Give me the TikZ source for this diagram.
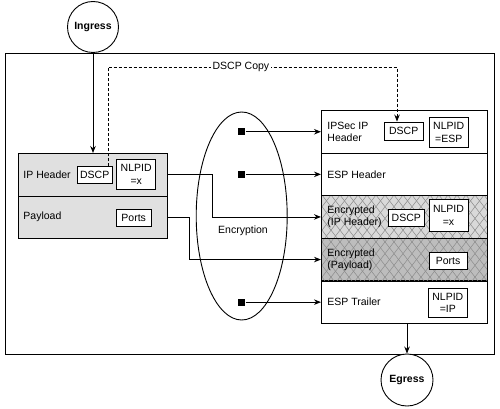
\documentclass[tikz,border=0pt]{standalone}
\usepackage{fontspec}
\setmainfont{Liberation Sans}
\usepackage{xcolor}
\usetikzlibrary{arrows.meta,positioning,shapes.geometric}

\definecolor{lgray}{gray}{0.88}
\definecolor{hgray}{gray}{0.85}
\definecolor{dgray}{gray}{0.74}
\definecolor{hatchc}{gray}{0.55}

\begin{document}
\begin{tikzpicture}[x=1pt,y=-1pt,line width=0.9pt,
    every node/.style={font=\fontsize{10.5}{12}\selectfont},
    endpt/.style={draw, fill=white, circle, minimum size=51pt, inner sep=0pt, font=\fontsize{10.5}{12}\selectfont\bfseries},
    rowbox/.style={draw, minimum width=#1, minimum height=42.6pt, inner sep=0pt, anchor=north west},
    rowlbl/.style={anchor=west, inner sep=0pt, align=left, font=\fontsize{10.5}{11.8}\selectfont},
    field/.style={draw, fill=white, inner sep=0pt, align=center, font=\fontsize{10.5}{12.5}\selectfont},
    dscp/.style={field, minimum width=35pt, minimum height=17pt},
    nlpid/.style={field, minimum width=39pt, minimum height=30pt},
    ports/.style={field, minimum width=35pt, minimum height=17pt},
    tap/.style={fill, minimum size=7pt, inner sep=0pt},
    arr/.style={-{Stealth[length=7pt,width=5.5pt]}},
    copyline/.style={dash pattern=on 3pt off 2pt},
    hatch/.style={draw=hatchc, line width=0.5pt}
]
    \useasboundingbox (0,0) rectangle (500,409);

    % Router frame
    \draw (5,53) rectangle (494,354);

    % Ingress and egress
    \node[endpt] (ingress) at (93,27) {Ingress};
    \node[endpt, minimum size=52pt] (egress) at (407,380) {Egress};

    % Original packet
    \node[rowbox=149pt, minimum height=42.5pt, fill=lgray] (iphdr) at (18,153) {};
    \node[rowbox=149pt, minimum height=42.5pt, fill=lgray] (payload) at (18,195.5) {};
    \node[rowlbl] at ([xshift=5pt]iphdr.west) {IP Header};
    \node[rowlbl] at ([xshift=5pt]payload.west) {Payload};
    \node[dscp] (dscpA) at (94.7,175.3) {DSCP};
    \node[nlpid] (nlpA) at (136.2,174.2) {NLPID\\=x};
    \node[ports] (portsA) at (133.7,217.5) {Ports};

    % IPSec packet
    \node[rowbox=166pt] (ipsec) at (321,110) {};
    \node[rowbox=166pt] (esph) at (321,152.6) {};
    \node[rowbox=166pt, fill=hgray] (encip) at (321,195.2) {};
    \node[rowbox=166pt, fill=dgray] (encpl) at (321,237.8) {};
    \node[rowbox=166pt] (espt) at (321,280.4) {};

    % Hatching on the encrypted part
    \begin{scope}
        \clip (encip.north west) rectangle (encpl.south east);
        \foreach \x in {250,259,...,560} {
            \draw[hatch] (\x,195) -- ++(66,86);
            \draw[hatch] (\x,195) -- ++(-66,86);
        }
    \end{scope}
    \draw (encip.north west) rectangle (encpl.south east);
    \draw (encip.south west) -- (encip.south east);

    \node[rowlbl] at ([xshift=6pt]ipsec.west) {IPSec IP\\Header};
    \node[rowlbl] at ([xshift=6pt]esph.west) {ESP Header};
    \node[rowlbl] at ([xshift=6pt]encip.west) {Encrypted\\(IP Header)};
    \node[rowlbl] at ([xshift=6pt]encpl.west) {Encrypted\\(Payload)};
    \node[rowlbl] at ([xshift=6pt]espt.west) {ESP Trailer};
    \node[dscp, minimum width=39pt, minimum height=18pt] (dscpB) at (403.7,131) {DSCP};
    \node[nlpid] (nlpB) at (448.7,132.5) {NLPID\\=ESP};
    \node[dscp, minimum width=36pt] (dscpC) at (406.3,218.3) {DSCP};
    \node[nlpid, minimum height=32pt] (nlpC) at (448.5,215.5) {NLPID\\=x};
    \node[ports, minimum width=38pt] (portsD) at (448,261) {Ports};
    \node[nlpid, minimum height=29pt] (nlpE) at (447.8,302.8) {NLPID\\=IP};

    % Encryption
    \node[draw, ellipse, minimum width=91pt, minimum height=208pt, inner sep=0pt] (enc) at (241.7,216) {};
    \node (enclbl) at (243,231) {Encryption};

    % Ingress to original packet
    \draw[arr] (ingress) -- (ingress |- iphdr.north);

    % DSCP copy
    \coordinate (cpL) at (108,67);
    \coordinate (cpR) at (397,67);
    \draw[copyline, arr] (cpL |- dscpA.north) -- (cpL)
        -- node[pos=0.46, fill=white, inner sep=2pt] (cplbl) {DSCP Copy} (cpR)
        -- (cpR |- dscpB.north);

    % Into encryption
    \coordinate (bendA) at (212,0);
    \coordinate (bendB) at (189,0);
    \draw[arr] (iphdr.east) -| (bendA |- encip.west) -- (encip.west);
    \draw[arr] (payload.east) -| (bendB |- encpl.west) -- (encpl.west);

    % New headers and trailer
    \node[tap] (tapA) at (enc |- ipsec.west) {};
    \node[tap] (tapB) at (enc |- esph.west) {};
    \node[tap] (tapE) at (enc |- espt.west) {};
    \draw[arr] (tapA) -- (ipsec.west);
    \draw[arr] (tapB) -- (esph.west);
    \draw[arr] (tapE) -- (espt.west);

    % To egress
    \draw[arr] (egress |- espt.south) -- (egress);
\end{tikzpicture}
\end{document}
